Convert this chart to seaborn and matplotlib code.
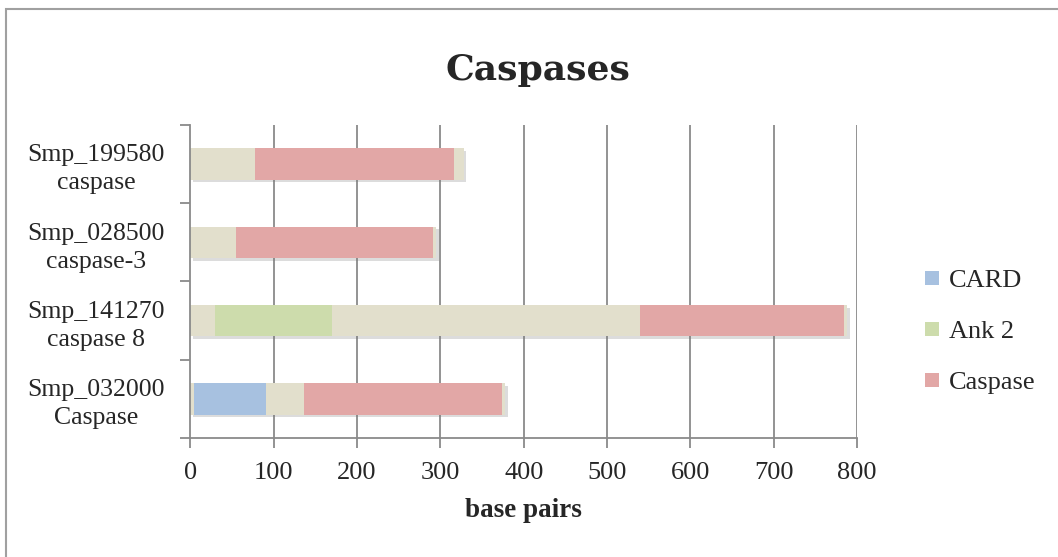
import matplotlib
matplotlib.use("Agg")
import matplotlib.pyplot as plt
import matplotlib.patheffects as pe
from matplotlib.patches import Rectangle
from matplotlib.lines import Line2D
import seaborn as sns
import pandas as pd

sns.set_theme(style="white")
plt.rcParams["font.family"] = ["Liberation Serif", "DejaVu Serif"]

# Proteins, top to bottom
genes = ["Smp_199580\ncaspase", "Smp_028500\ncaspase-3",
         "Smp_141270\ncaspase 8", "Smp_032000\nCaspase"]
protein_length = [328, 295, 788, 378]

# Domain spans in base pairs (0 = domain absent)
caspase_start = [77, 55, 540, 136]
caspase_end = [316, 291, 785, 374]
ank2_start = [0, 0, 30, 0]
ank2_end = [0, 0, 170, 0]
card_start = [0, 0, 0, 4]
card_end = [0, 0, 0, 91]

x_ticks = [0, 100, 200, 300, 400, 500, 600, 700, 800]

BEIGE = "#E2DFCC"
CARD_C = "#A7C1E0"
ANK_C = "#CDDCAC"
CASP_C = "#E2A7A6"

fig = plt.figure(figsize=(10.58, 5.57), dpi=100)
ax = fig.add_axes([0.180, 0.2136, 0.630, 0.5624])

grid_c = "#8A8A8A"
for t in x_ticks[1:]:
    ax.axvline(t, color=grid_c, lw=1.3, zorder=0)

width = 0.40
# Each layer is drawn from 0 to its end, later layers on top of earlier ones
layers = [
    (protein_length, BEIGE, True),
    (caspase_end, CASP_C, False),
    (caspase_start, BEIGE, False),
    (ank2_end, ANK_C, False),
    (ank2_start, BEIGE, False),
    (card_end, CARD_C, False),
    (card_start, BEIGE, False),
]
for vals, col, shadow in layers:
    df = pd.DataFrame({"gene": genes, "bp": vals})
    n_before = len(ax.patches)
    sns.barplot(data=df, y="gene", x="bp", order=genes, color=col,
                orient="h", width=width, saturation=1, ax=ax, zorder=2,
                linewidth=0)
    if shadow:
        for p in ax.patches[n_before:]:
            p.set_path_effects([pe.SimplePatchShadow(offset=(2, -2),
                                                     shadow_rgbFace="#777777",
                                                     alpha=0.25),
                                pe.Normal()])

ax.set_xlim(0, 800)
ax.set_ylim(3.5, -0.5)
ax.set_xticks(x_ticks)
ax.set_xticklabels([str(t) for t in x_ticks], fontsize=19)
ax.set_yticks(range(len(genes)))
ax.set_yticklabels(genes, fontsize=18.5, multialignment="center",
                   ha="center", linespacing=1.35)
ax.set_yticks([-0.5, 0.5, 1.5, 2.5, 3.5], minor=True)
ax.tick_params(axis="y", which="major", length=0, pad=68)
ax.tick_params(axis="y", which="minor", length=7, color=grid_c, width=1.3, left=True)
ax.tick_params(axis="x", which="major", length=7, color=grid_c, width=1.3,
               bottom=True, pad=10)
ax.set_ylabel("")
ax.set_xlabel("base pairs", fontsize=19.5, fontweight="bold", labelpad=10)

for s in ["top", "right"]:
    ax.spines[s].set_visible(False)
for s in ["left", "bottom"]:
    ax.spines[s].set_color(grid_c)
    ax.spines[s].set_linewidth(1.3)

fig.suptitle("Caspases", x=0.508, y=0.905, fontsize=26, fontweight="bold",
             family=["DejaVu Serif"])

handles = [Line2D([0], [0], marker="s", linestyle="", markersize=10.5,
                  markerfacecolor=c, markeredgewidth=0)
           for c in (CARD_C, ANK_C, CASP_C)]
fig.legend(handles, ["CARD", "Ank 2", "Caspase"], loc="center left",
           bbox_to_anchor=(0.862, 0.405), frameon=False, fontsize=19,
           handlelength=0.55, handletextpad=0.35, labelspacing=1.05,
           borderpad=0)

# chart frame
fig.patches.append(Rectangle((6 / 1058, -0.05), 1.2, 1 - 9 / 557 + 0.05,
                             transform=fig.transFigure, fill=False,
                             edgecolor="#A0A0A0", lw=1.5))

fig.savefig("out.png", dpi=100, facecolor="white")
